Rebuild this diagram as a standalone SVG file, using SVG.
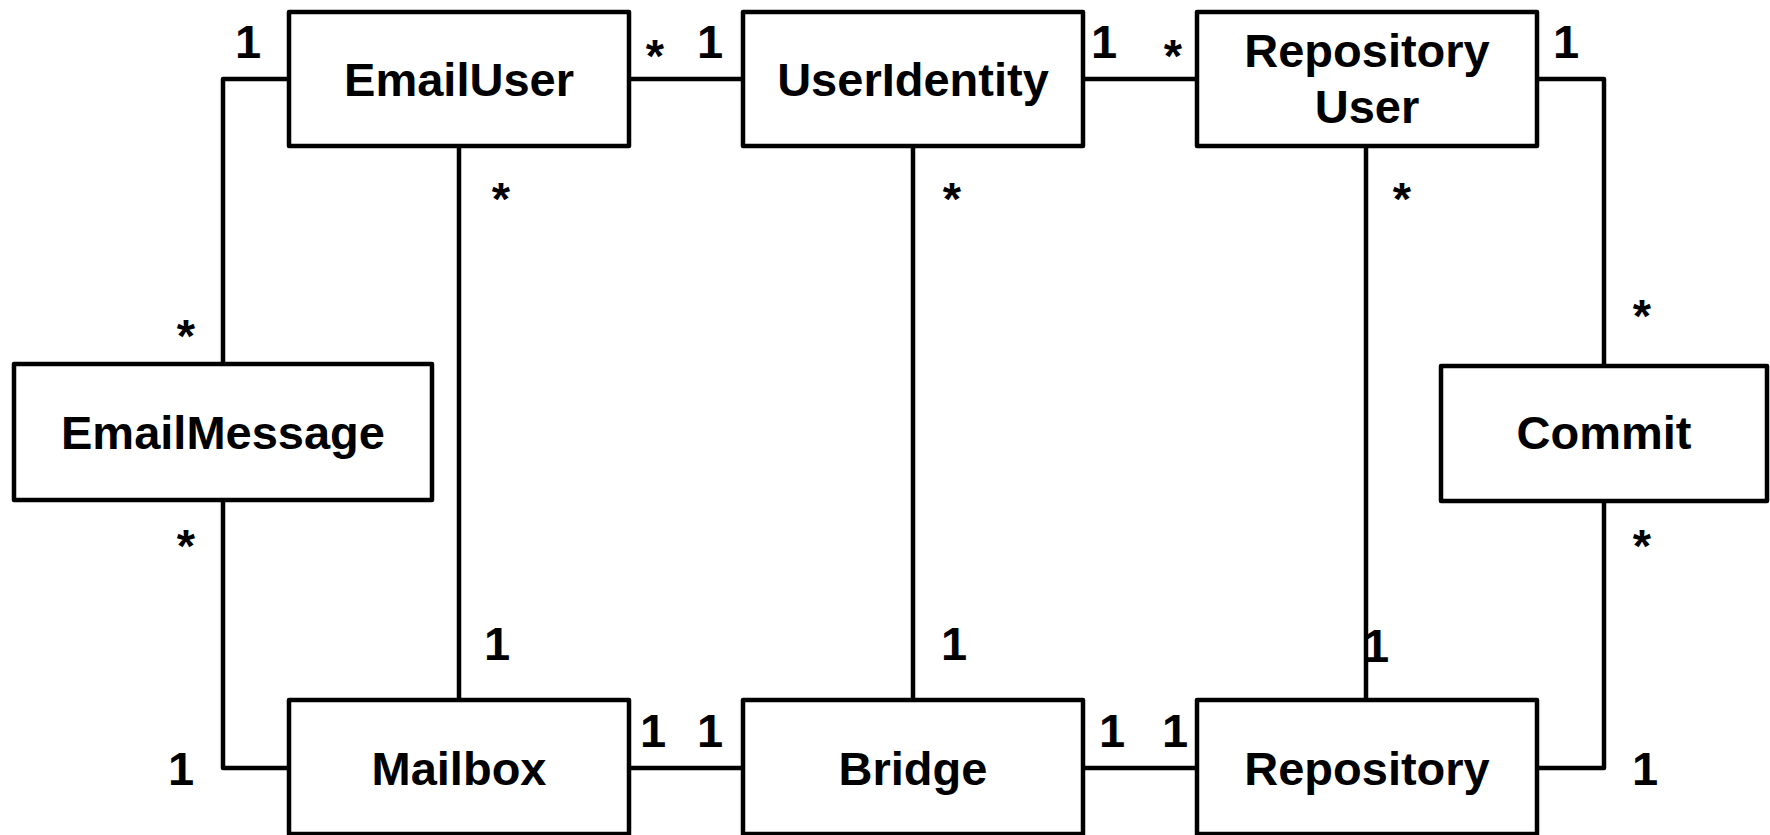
<svg xmlns="http://www.w3.org/2000/svg" width="1770" height="835" viewBox="0 0 1770 835">
<style>
.box{fill:#fff;stroke:#000;stroke-width:4.5;stroke-linejoin:round}
.ln{fill:none;stroke:#000;stroke-width:4.5;stroke-linejoin:round}
text{font-family:"Liberation Sans",Arial,Helvetica,sans-serif;font-weight:bold;font-size:47px;fill:#000;text-anchor:middle}
</style>
<rect width="1770" height="835" fill="#fff"/>
<g id="connectors">
<path class="ln" d="M629 79H743"/>
<path class="ln" d="M1083 79H1197"/>
<path class="ln" d="M289 79H223V364"/>
<path class="ln" d="M223 500V768H289"/>
<path class="ln" d="M459 146V700"/>
<path class="ln" d="M913 146V700"/>
<path class="ln" d="M1366 146V700"/>
<path class="ln" d="M1537 79H1604V366"/>
<path class="ln" d="M1604 501V768H1537"/>
<path class="ln" d="M629 768H743"/>
<path class="ln" d="M1083 768H1197"/>
</g>
<g id="EmailUser"><rect class="box" x="289" y="12" width="340" height="134"/><text x="459" y="96">EmailUser</text></g>
<g id="UserIdentity"><rect class="box" x="743" y="12" width="340" height="134"/><text x="913" y="96">UserIdentity</text></g>
<g id="RepositoryUser"><rect class="box" x="1197" y="12" width="340" height="134"/><text x="1367" y="67">Repository</text><text x="1367" y="123">User</text></g>
<g id="EmailMessage"><rect class="box" x="14" y="364" width="418" height="136"/><text x="223" y="449">EmailMessage</text></g>
<g id="Commit"><rect class="box" x="1441" y="366" width="326" height="135"/><text x="1604" y="449">Commit</text></g>
<g id="Mailbox"><rect class="box" x="289" y="700" width="340" height="134"/><text x="459" y="785">Mailbox</text></g>
<g id="Bridge"><rect class="box" x="743" y="700" width="340" height="134"/><text x="913" y="785">Bridge</text></g>
<g id="Repository"><rect class="box" x="1197" y="700" width="340" height="134"/><text x="1367" y="785">Repository</text></g>
<g id="labels">
<text x="248" y="58">1</text>
<text x="655" y="72">*</text>
<text x="710" y="58">1</text>
<text x="1104" y="58">1</text>
<text x="1173" y="72">*</text>
<text x="1566" y="58">1</text>
<text x="501" y="215">*</text>
<text x="952" y="215">*</text>
<text x="1402" y="215">*</text>
<text x="186" y="352">*</text>
<text x="1642" y="332">*</text>
<text x="186" y="562">*</text>
<text x="1642" y="562">*</text>
<text x="497" y="660">1</text>
<text x="954" y="660">1</text>
<text x="1376" y="662">1</text>
<text x="181" y="785">1</text>
<text x="653" y="747">1</text>
<text x="710" y="747">1</text>
<text x="1112" y="747">1</text>
<text x="1175" y="747">1</text>
<text x="1645" y="785">1</text>
</g>
</svg>
